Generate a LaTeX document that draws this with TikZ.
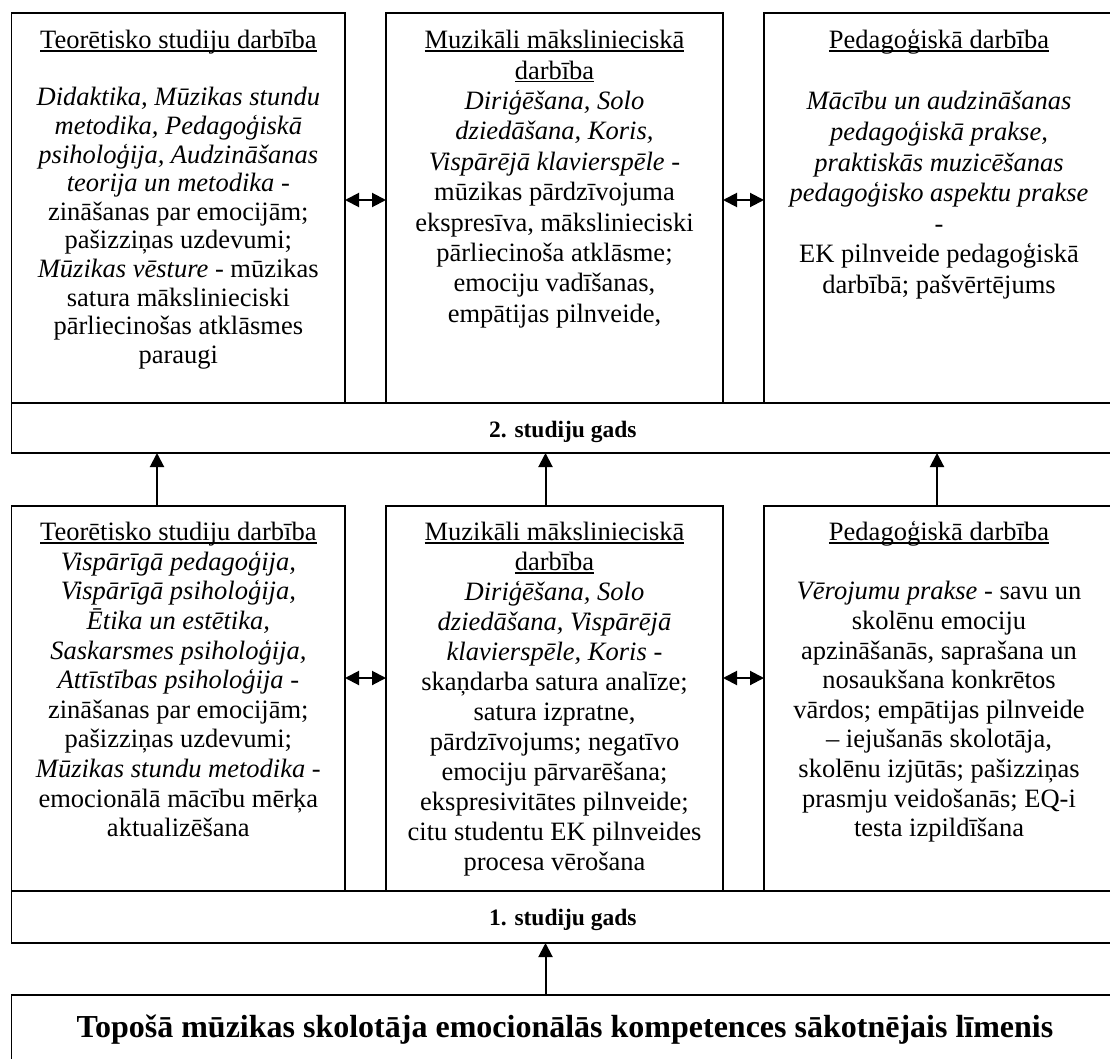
\documentclass[tikz,border=0pt]{standalone}
\usepackage{fontspec}
\setmainfont{Liberation Serif}
\usetikzlibrary{arrows.meta}
\newcommand\myul[1]{\setbox0\hbox{#1}\rlap{\rule[-3pt]{\wd0}{1.3pt}}\box0}
\newcommand\fl{\rule{0pt}{20pt}}
\tikzset{
  x=1pt, y=-1pt,
  box/.style={draw, line width=1.4pt, rectangle, inner sep=0pt, outer sep=0pt},
  txtbase/.style={anchor=north, align=center, inner sep=0pt},
  txtS/.style={txtbase, font=\fontsize{26.5}{28.6}\selectfont},
  txtB/.style={txtbase, font=\fontsize{26.5}{29.6}\selectfont},
  txtL/.style={txtbase, font=\fontsize{26.5}{30.4}\selectfont},
  txtR/.style={txtbase, font=\fontsize{26.5}{30.6}\selectfont},
  txtM/.style={txtbase, font=\fontsize{26.5}{30}\selectfont},
  yeartxt/.style={anchor=base, inner sep=0pt, font=\fontsize{23.5}{26}\selectfont\bfseries},
  basetxt/.style={anchor=base, inner sep=0pt, font=\fontsize{32}{36}\selectfont\bfseries},
  arr/.style={line width=2pt, -{Triangle[length=14pt,width=14pt]}},
  darr/.style={line width=2pt, {Triangle[length=14pt,width=14pt]}-{Triangle[length=14pt,width=14pt]}},
}
\begin{document}
\begin{tikzpicture}
\clip (0,0) rectangle (1110,1059);
\fill[white] (0,0) rectangle (1110,1059);

% top row boxes
\node[box, minimum width=333.3pt, minimum height=390pt] (tl) at (178.35,208) {};
\node[box, minimum width=337pt, minimum height=390pt] (tm) at (554.5,208) {};
\node[box, minimum width=350pt, minimum height=390pt] (tr) at (939,208) {};
\node[box, minimum width=1102.3pt, minimum height=50pt] (band2) at (562.85,428) {};

% bottom row boxes
\node[box, minimum width=333.3pt, minimum height=385pt] (bl) at (178.35,698.5) {};
\node[box, minimum width=337pt, minimum height=385pt] (bm) at (554.5,698.5) {};
\node[box, minimum width=350pt, minimum height=385pt] (br) at (939,698.5) {};
\node[box, minimum width=1102.3pt, minimum height=52pt] (band1) at (562.85,917) {};

% base box
\node[box, minimum width=1106.6pt, minimum height=85pt] (base) at (565,1037.5) {};

% texts top row
\node[txtS] (tlt) at (178.35,28.5) {\fl\myul{Teorētisko studiju darbība}\\[28.6pt]
\textit{Didaktika, Mūzikas stundu}\\
\textit{metodika, Pedagoģiskā}\\
\textit{psiholoģija, Audzināšanas}\\
\textit{teorija un metodika} -\\
zināšanas par emocijām;\\
pašizziņas uzdevumi;\\
\textit{Mūzikas vēsture} - mūzikas\\
satura mākslinieciski\\
pārliecinošas atklāsmes\\
paraugi};

\node[txtL] (tmt) at (554.5,28.5) {\fl\myul{Muzikāli mākslinieciskā}\\
\myul{darbība}\\
\textit{Diriģēšana, Solo}\\
\textit{dziedāšana, Koris,}\\
\textit{Vispārējā klavierspēle} -\\
mūzikas pārdzīvojuma\\
ekspresīva, mākslinieciski\\
pārliecinoša atklāsme;\\
emociju vadīšanas,\\
empātijas pilnveide,};

\node[txtR] (trt) at (939,28.5) {\fl\myul{Pedagoģiskā darbība}\\[30.6pt]
\textit{Mācību un audzināšanas}\\
\textit{pedagoģiskā prakse,}\\
\textit{praktiskās muzicēšanas}\\
\textit{pedagoģisko aspektu prakse}\\
-\\
EK pilnveide pedagoģiskā\\
darbībā; pašvērtējums};

\node[yeartxt] (y2) at (562.85,437) {2. studiju gads};

% texts bottom row
\node[txtB] (blt) at (178.35,520.5) {\fl\myul{Teorētisko studiju darbība}\\
\textit{Vispārīgā pedagoģija,}\\
\textit{Vispārīgā psiholoģija,}\\
\textit{Ētika un estētika,}\\
\textit{Saskarsmes psiholoģija,}\\
\textit{Attīstības psiholoģija} -\\
zināšanas par emocijām;\\
pašizziņas uzdevumi;\\
\textit{Mūzikas stundu metodika} -\\
emocionālā mācību mērķa\\
aktualizēšana};

\node[txtM] (bmt) at (554.5,520.5) {\fl\myul{Muzikāli mākslinieciskā}\\
\myul{darbība}\\
\textit{Diriģēšana, Solo}\\
\textit{dziedāšana, Vispārējā}\\
\textit{klavierspēle, Koris} -\\
skaņdarba satura analīze;\\
satura izpratne,\\
pārdzīvojums; negatīvo\\
emociju pārvarēšana;\\
ekspresivitātes pilnveide;\\
citu studentu EK pilnveides\\
procesa vērošana};

\node[txtB] (brt) at (939,520.5) {\fl\myul{Pedagoģiskā darbība}\\[29.6pt]
\textit{Vērojumu prakse} - savu un\\
skolēnu emociju\\
apzināšanās, saprašana un\\
nosaukšana konkrētos\\
vārdos; empātijas pilnveide\\
– iejušanās skolotāja,\\
skolēnu izjūtās; pašizziņas\\
prasmju veidošanās; EQ-i\\
testa izpildīšana};

\node[yeartxt] (y1) at (562.85,925) {1. studiju gads};

\node[basetxt] (bt) at (565,1037) {Topošā mūzikas skolotāja emocionālās kompetences sākotnējais līmenis};

% connector coordinates
\coordinate (a1) at (157,0);
\coordinate (a2) at (545.5,0);
\coordinate (a3) at (937,0);
\coordinate (h1) at (0,200);
\coordinate (h2) at (0,678);

% vertical arrows
\draw[arr] (bl.north -| a1) -- (band2.south -| a1);
\draw[arr] (bm.north -| a2) -- (band2.south -| a2);
\draw[arr] (br.north -| a3) -- (band2.south -| a3);
\draw[arr] (base.north -| a2) -- (band1.south -| a2);

% horizontal double arrows
\draw[darr] (tl.east |- h1) -- (tm.west |- h1);
\draw[darr] (tm.east |- h1) -- (tr.west |- h1);
\draw[darr] (bl.east |- h2) -- (bm.west |- h2);
\draw[darr] (bm.east |- h2) -- (br.west |- h2);
\end{tikzpicture}
\end{document}
